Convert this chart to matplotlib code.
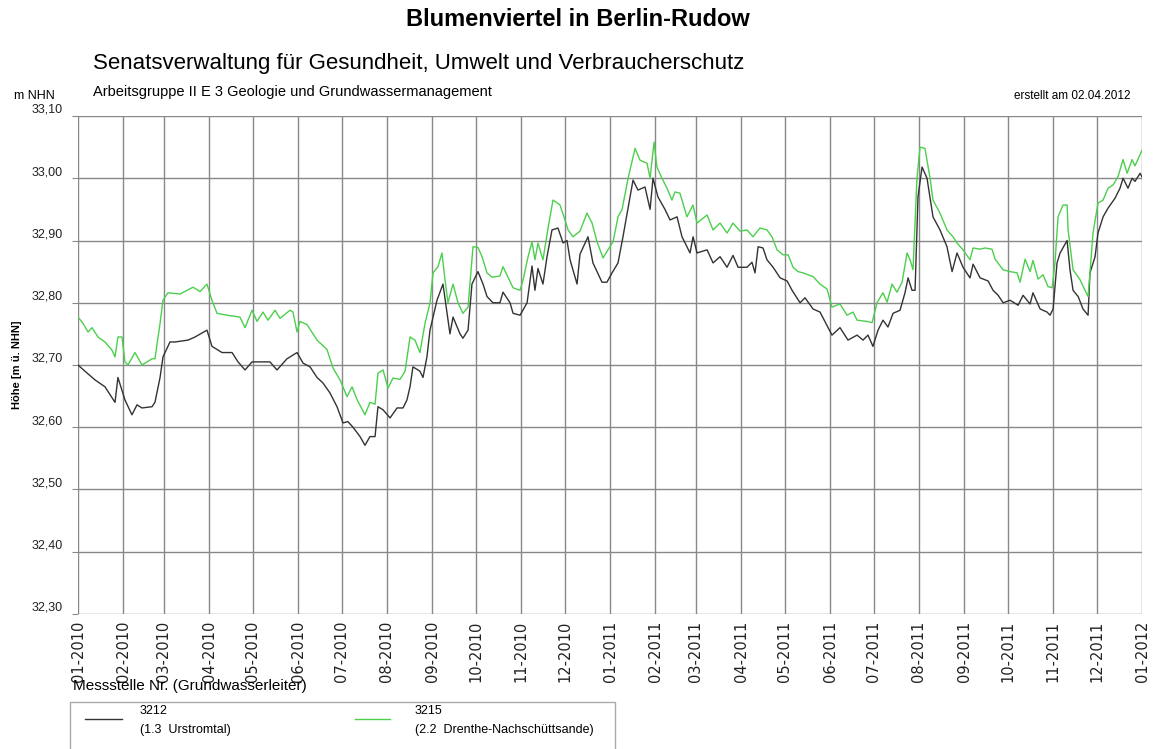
import numpy as np
import matplotlib
matplotlib.use("Agg")
import matplotlib.pyplot as plt
from matplotlib.patches import Rectangle
from matplotlib.lines import Line2D

plt.rcParams['font.family'] = ['Liberation Sans', 'DejaVu Sans']

# ---------------- data (days since 2010-01-01, m NHN) ----------------
black_days = [0, 4.8, 11.7, 18.5, 25.4, 27.4, 32.2, 37.0, 40.5, 43.9, 50.8, 52.8, 56.3, 58.3,
              63.1, 66.6, 75.5, 80.3, 88.5, 91.9, 98.8, 105.7, 109.8, 114.6, 119.4, 124.9,
              131.7, 136.5, 143.4, 150.3, 154.4, 159.2, 164.0, 168.1, 172.9, 177.7, 181.8,
              185.2, 188.7, 193.5, 196.9, 200.3, 203.8, 205.8, 209.3, 214.1, 218.9, 223.0,
              225.7, 227.8, 229.8, 234.6, 236.7, 239.4, 241.5, 246.3, 250.4, 255.2, 257.3,
              262.1, 264.1, 267.6, 270.3, 274.4, 277.9, 280.6, 284.7, 289.5, 291.6, 296.4,
              298.5, 303.3, 308.1, 311.5, 313.5, 315.6, 319.0, 321.8, 325.2, 329.3, 332.8,
              335.5, 337.6, 342.4, 344.4, 349.9, 353.3, 359.5, 362.9, 366.4, 370.5, 373.9,
              380.8, 384.2, 389.0, 392.5, 394.5, 397.9, 402.7, 406.2, 411.0, 414.4, 419.9,
              422.0, 424.7, 431.6, 435.7, 440.5, 445.3, 449.4, 452.9, 459.0, 462.4, 464.5,
              466.6, 470.0, 472.7, 476.9, 481.7, 486.5, 489.9, 495.4, 498.8, 504.3, 509.1,
              517.3, 522.8, 528.3, 534.5, 538.6, 542.0, 545.4, 548.9, 552.3, 555.7, 559.2,
              564.0, 567.4, 569.5, 572.2, 574.3, 576.3, 579.1, 582.5, 586.6, 591.4, 596.2,
              599.7, 603.1, 607.2, 612.0, 614.1, 618.9, 624.4, 627.8, 631.3, 634.7, 639.5,
              645.0, 648.4, 653.2, 655.2, 660.1, 664.9, 666.9, 669.0, 671.7, 673.8, 678.6,
              680.6, 682.7, 686.2, 689.5, 693.0, 694.3, 697.8, 699.8, 703.3, 706.7, 711.5,
              714.9, 717.0, 720.4, 723.2, 725.2, 728.7, 730.0]
black_vals = [32.700, 32.690, 32.676, 32.665, 32.640, 32.680, 32.644, 32.620, 32.636, 32.631,
              32.633, 32.640, 32.680, 32.713, 32.737, 32.737, 32.740, 32.745, 32.756, 32.730,
              32.720, 32.720, 32.705, 32.692, 32.705, 32.705, 32.705, 32.692, 32.710, 32.720,
              32.703, 32.697, 32.680, 32.671, 32.655, 32.633, 32.607, 32.609, 32.600, 32.585,
              32.571, 32.585, 32.585, 32.633, 32.628, 32.615, 32.631, 32.631, 32.644, 32.665,
              32.697, 32.690, 32.680, 32.713, 32.756, 32.804, 32.830, 32.750, 32.777, 32.750,
              32.743, 32.756, 32.830, 32.850, 32.830, 32.810, 32.800, 32.800, 32.817, 32.800,
              32.783, 32.780, 32.800, 32.859, 32.820, 32.855, 32.830, 32.874, 32.917, 32.920,
              32.896, 32.900, 32.869, 32.830, 32.878, 32.906, 32.864, 32.833, 32.833, 32.848,
              32.864, 32.906, 32.997, 32.981, 32.986, 32.950, 33.000, 32.970, 32.950, 32.933,
              32.938, 32.906, 32.880, 32.906, 32.880, 32.885, 32.864, 32.874, 32.857, 32.876,
              32.857, 32.857, 32.865, 32.848, 32.890, 32.888, 32.869, 32.857, 32.840, 32.835,
              32.820, 32.800, 32.808, 32.790, 32.785, 32.748, 32.760, 32.740, 32.748, 32.740,
              32.748, 32.730, 32.756, 32.772, 32.761, 32.783, 32.788, 32.816, 32.840, 32.820,
              32.820, 32.970, 33.018, 33.000, 32.938, 32.917, 32.890, 32.850, 32.880, 32.857,
              32.840, 32.862, 32.840, 32.835, 32.820, 32.812, 32.800, 32.804, 32.796, 32.812,
              32.798, 32.816, 32.790, 32.785, 32.780, 32.790, 32.864, 32.880, 32.900, 32.853,
              32.820, 32.810, 32.790, 32.780, 32.848, 32.874, 32.912, 32.938, 32.952, 32.968,
              32.984, 33.000, 32.984, 33.000, 32.995, 33.008, 33.002]

green_days = [0, 3.4, 6.9, 9.6, 13.7, 18.5, 23.3, 25.4, 27.4, 30.2, 32.2, 34.3, 39.1, 43.9,
              50.8, 52.8, 56.3, 58.3, 61.7, 70.0, 78.9, 83.7, 88.5, 91.9, 95.4, 102.2, 111.1,
              114.6, 119.4, 122.8, 126.9, 130.4, 135.2, 138.6, 145.5, 147.5, 150.3, 152.3,
              157.1, 164.0, 170.8, 175.0, 179.8, 184.6, 188.0, 191.5, 196.9, 200.3, 203.8,
              205.8, 209.3, 212.7, 216.1, 220.9, 224.4, 227.8, 231.2, 234.6, 238.1, 241.5,
              243.6, 247.0, 249.7, 251.8, 253.8, 257.3, 260.7, 264.1, 267.6, 271.0, 274.4,
              277.2, 280.6, 284.1, 289.5, 291.6, 295.0, 298.5, 303.3, 305.4, 308.8, 311.5,
              313.5, 315.6, 319.0, 322.5, 325.9, 330.7, 334.1, 336.2, 339.6, 344.4, 349.2,
              352.7, 356.1, 360.2, 363.6, 367.1, 370.5, 373.3, 377.4, 382.2, 385.6, 390.4,
              392.5, 395.2, 397.2, 400.7, 404.1, 407.5, 409.6, 413.0, 417.8, 421.9, 424.7,
              431.6, 435.7, 440.5, 445.3, 449.4, 454.2, 459.0, 463.1, 467.9, 472.7, 476.1,
              479.6, 483.7, 487.2, 490.6, 494.0, 497.4, 504.3, 509.1, 513.9, 517.3, 522.8,
              527.6, 531.8, 534.5, 541.3, 544.8, 548.2, 552.3, 555.1, 558.5, 561.9, 565.4,
              568.8, 570.9, 572.9, 575.6, 577.7, 581.1, 584.6, 586.6, 591.4, 596.2, 600.3,
              603.1, 607.2, 612.0, 614.1, 618.9, 622.3, 627.1, 629.2, 634.7, 639.5, 644.3,
              646.3, 649.8, 653.2, 655.2, 658.7, 662.1, 665.5, 668.3, 670.3, 672.4, 675.8,
              678.6, 679.3, 682.7, 687.5, 690.9, 693.0, 696.4, 699.8, 703.3, 706.7, 710.1,
              713.6, 717.0, 719.8, 723.2, 725.2, 730.0]
green_vals = [32.777, 32.767, 32.753, 32.760, 32.745, 32.737, 32.724, 32.713, 32.745, 32.745,
              32.705, 32.700, 32.720, 32.700, 32.710, 32.710, 32.767, 32.804, 32.816, 32.814,
              32.825, 32.818, 32.830, 32.804, 32.783, 32.780, 32.777, 32.760, 32.788, 32.770,
              32.785, 32.772, 32.788, 32.775, 32.788, 32.785, 32.753, 32.770, 32.765, 32.740,
              32.725, 32.695, 32.676, 32.649, 32.665, 32.644, 32.620, 32.640, 32.637, 32.687,
              32.692, 32.663, 32.679, 32.677, 32.690, 32.745, 32.740, 32.720, 32.767, 32.800,
              32.848, 32.858, 32.880, 32.837, 32.800, 32.830, 32.800, 32.783, 32.793, 32.890,
              32.889, 32.874, 32.848, 32.841, 32.843, 32.858, 32.841, 32.824, 32.820, 32.837,
              32.874, 32.898, 32.869, 32.896, 32.869, 32.920, 32.965, 32.957, 32.933, 32.917,
              32.906, 32.915, 32.944, 32.928, 32.898, 32.872, 32.885, 32.898, 32.938, 32.950,
              33.000, 33.048, 33.029, 33.024, 33.000, 33.058, 33.018, 33.000, 32.984, 32.965,
              32.978, 32.976, 32.938, 32.957, 32.928, 32.941, 32.917, 32.928, 32.912, 32.928,
              32.915, 32.917, 32.906, 32.920, 32.917, 32.906, 32.885, 32.877, 32.877, 32.857,
              32.850, 32.848, 32.842, 32.830, 32.822, 32.793, 32.798, 32.780, 32.785, 32.772,
              32.770, 32.768, 32.800, 32.816, 32.801, 32.830, 32.817, 32.833, 32.880, 32.869,
              32.853, 33.000, 33.050, 33.048, 33.000, 32.965, 32.944, 32.917, 32.906, 32.896,
              32.885, 32.869, 32.888, 32.886, 32.888, 32.886, 32.870, 32.853, 32.850, 32.848,
              32.833, 32.870, 32.850, 32.868, 32.838, 32.845, 32.826, 32.824, 32.864, 32.938,
              32.957, 32.957, 32.917, 32.853, 32.837, 32.820, 32.810, 32.912, 32.960, 32.965,
              32.984, 32.989, 33.003, 33.030, 33.008, 33.030, 33.020, 33.045]

y_ticks = [32.30, 32.40, 32.50, 32.60, 32.70, 32.80, 32.90, 33.00, 33.10]
months = np.arange('2010-01', '2012-02', dtype='datetime64[M]')
series = [("3212", "(1.3  Urstromtal)", "#333333"),
          ("3215", "(2.2  Drenthe-Nachschüttsande)", "#4ccf4c")]

# ---------------- figure ----------------
W, H = 1156, 749
fig = plt.figure(figsize=(W / 100, H / 100), dpi=100)
def fx(x): return x / W
def fy(y): return 1 - y / H

ax = fig.add_axes([fx(78), fy(614), fx(1142) - fx(78), fy(116) - fy(614)])

month_days = (months.astype('datetime64[D]') - np.datetime64('2010-01-01')).astype(int)
month_labels = [f"{int(str(m)[5:7]):02d}-{str(m)[:4]}" for m in months]

ax.plot(black_days, black_vals, color=series[0][2], lw=1.0, zorder=3)
ax.plot(green_days, green_vals, color=series[1][2], lw=1.0, zorder=3)

ax.set_xlim(month_days[0], month_days[-1])
ax.set_ylim(y_ticks[0], y_ticks[-1])
ax.set_xticks(month_days)
ax.set_xticklabels(month_labels, rotation=90, fontsize=10.5, color='#222222',
                   family='DejaVu Sans')
ax.set_yticks(y_ticks)
ax.set_yticklabels([f"{v:.2f}".replace('.', ',') for v in y_ticks], fontsize=9,
                   color='#222222')
for lab in ax.get_yticklabels():
    lab.set_verticalalignment('bottom')
ax.tick_params(axis='y', length=4, color='#888888', pad=7)
ax.tick_params(axis='x', length=0, pad=5)
ax.grid(True, color='#888888', lw=1.0)
for s in ax.spines.values():
    s.set_visible(False)

# ---------------- texts ----------------
fig.text(fx(578), fy(20), "Blumenviertel in Berlin-Rudow", ha='center', va='center',
         fontsize=17, fontweight='bold')
fig.text(fx(93), fy(64), "Senatsverwaltung für Gesundheit, Umwelt und Verbraucherschutz",
         ha='left', va='center', fontsize=16)
fig.text(fx(93), fy(92), "Arbeitsgruppe II E 3 Geologie und Grundwassermanagement",
         ha='left', va='center', fontsize=10.5)
fig.text(fx(14), fy(96), "m NHN", ha='left', va='center', fontsize=9)
fig.text(fx(1130), fy(96), "erstellt am 02.04.2012", ha='right', va='center', fontsize=8.5)
fig.text(fx(17), fy(365), "Höhe [m ü. NHN]", ha='center', va='center', rotation=90,
         fontsize=8, fontweight='bold')
fig.text(fx(73), fy(686), "Messstelle Nr. (Grundwasserleiter)", ha='left', va='center',
         fontsize=11)

# ---------------- legend box ----------------
fig.add_artist(Rectangle((fx(70), fy(760)), fx(615) - fx(70), fy(702) - fy(760),
                         transform=fig.transFigure, fill=False, edgecolor='#aaaaaa', lw=1))
for (num, desc, col), (lx0, lx1, tx) in zip(series, [(85, 122, 140), (355, 390, 415)]):
    fig.add_artist(Line2D([fx(lx0), fx(lx1)], [fy(719), fy(719)], transform=fig.transFigure,
                          color=col, lw=1.0))
    fig.text(fx(tx), fy(711), num, ha='left', va='center', fontsize=9)
    fig.text(fx(tx), fy(730), desc, ha='left', va='center', fontsize=9)

fig.savefig("out.png", dpi=100)
